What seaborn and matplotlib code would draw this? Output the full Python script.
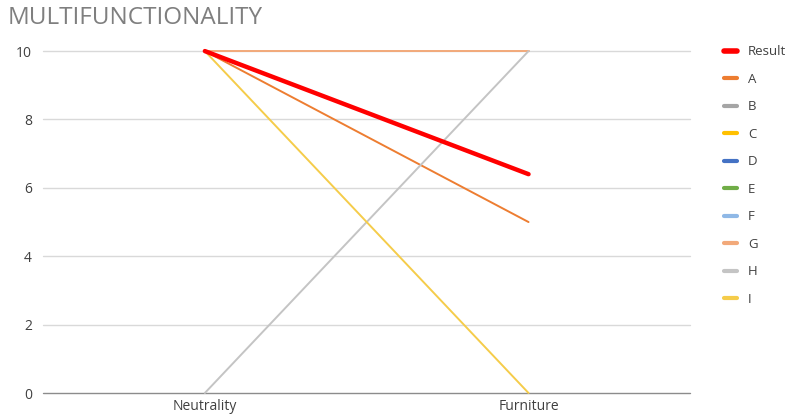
import numpy as np
import pandas as pd
import matplotlib
matplotlib.use("Agg")
import matplotlib.pyplot as plt
import seaborn as sns
from matplotlib.lines import Line2D

categories = ["Neutrality", "Furniture"]
series_names = ["Result", "A", "B", "C", "D", "E", "F", "G", "H", "I"]
result = [10, 6.4]
a_vals = [10, 5]
b_vals = [np.nan, np.nan]
c_vals = [np.nan, np.nan]
d_vals = [np.nan, np.nan]
e_vals = [np.nan, np.nan]
f_vals = [np.nan, np.nan]
g_vals = [10, 10]
h_vals = [0, 10]
i_vals = [10, 0]
yticks = [0, 2, 4, 6, 8, 10]

colors = ["#FF0000", "#ED7D31", "#A5A5A5", "#FFC000", "#4472C4",
          "#70AD47", "#8FB8E6", "#F2A97A", "#C4C4C4", "#F5CC4A"]

values = [result, a_vals, b_vals, c_vals, d_vals, e_vals, f_vals, g_vals, h_vals, i_vals]
rows = []
for name, vals in zip(series_names, values):
    for pos, (cat, v) in enumerate(zip(categories, vals)):
        rows.append({"series": name, "pos": pos, "category": cat, "value": v})
df = pd.DataFrame(rows)

sns.set_theme(style="white")
plt.rcParams["font.family"] = ["Open Sans", "DejaVu Sans"]

fig = plt.figure(figsize=(7.88, 4.18), dpi=100)
ax = fig.add_axes([0.0546, 0.0598, 0.8215, 0.818])

for y in yticks:
    ax.axhline(y, color="#D9D9D9" if y > 0 else "#8C8C8C", lw=1.0, zorder=0,
               clip_on=False)

# draw the plain series first, the Result line on top
order = series_names[1:] + ["Result"]
for z, name in enumerate(order):
    sub = df[df["series"] == name]
    if sub["value"].notna().sum() == 0:
        continue
    sns.lineplot(data=sub, x="pos", y="value", ax=ax,
                 color=colors[series_names.index(name)],
                 lw=3.2 if name == "Result" else 1.4,
                 zorder=2 + z, legend=False, clip_on=False,
                 solid_capstyle="round")

ax.set_xlim(-0.5, 1.5)
ax.set_ylim(0, 10)
ax.set_xticks(range(len(categories)))
ax.set_xticklabels(categories, fontsize=10, color="#404040")
ax.set_yticks(yticks)
ax.set_yticklabels([str(t) for t in yticks], fontsize=10, color="#404040")
ax.tick_params(axis="x", length=0, pad=4)
ax.tick_params(axis="y", length=0, pad=8)
ax.set_xlabel("")
ax.set_ylabel("")
for s in ax.spines.values():
    s.set_visible(False)

handles = [Line2D([0], [0], color=c, lw=4 if n == "Result" else 3)
           for n, c in zip(series_names, colors)]
fig.legend(handles, series_names, loc="upper left", bbox_to_anchor=(0.904, 0.92),
           frameon=False, fontsize=9.5, handlelength=1.0, handletextpad=0.8,
           labelspacing=1.1, labelcolor="#404040")

fig.text(0.01, 0.957, "MULTIFUNCTIONALITY", fontsize=17.5, color="#7F7F7F",
         va="center", ha="left")

fig.savefig("out.png", dpi=100)
